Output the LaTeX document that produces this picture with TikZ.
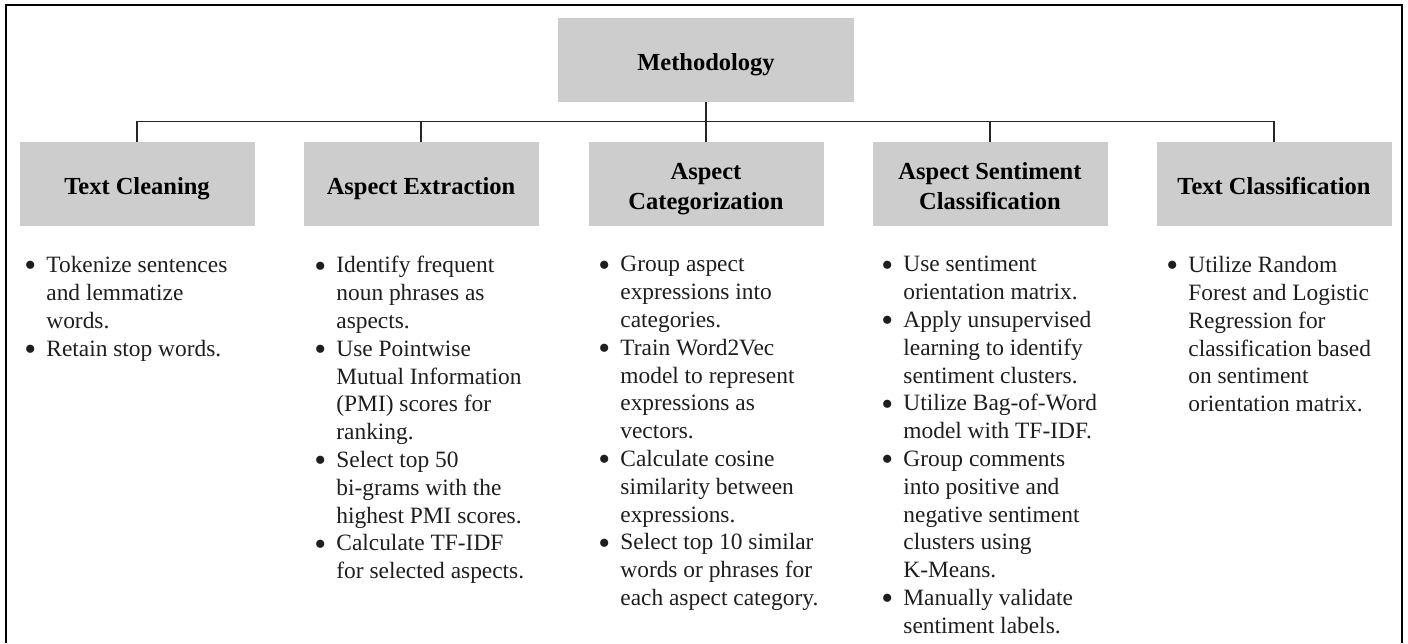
\documentclass[tikz,border=0pt]{standalone}
\usepackage{fontspec}
\usepackage{graphicx}
\setmainfont{Liberation Serif}
\definecolor{boxgray}{RGB}{205,205,205}
\definecolor{txt}{RGB}{30,30,30}
\newcommand\bitem{\makebox[11pt][l]{\raisebox{-0.18em}{\scalebox{1.45}{\textbullet}}}}
\newcommand\cont{\hspace*{11pt}}
\newcommand\hd[1]{\raisebox{-2pt}[\height][\depth]{\begin{tabular}{@{}c@{}}#1\end{tabular}}}
\begin{document}
\begin{tikzpicture}[x=0.5pt,y=-0.5pt,
  head/.style={fill=boxgray, inner sep=0pt, minimum width=117.5pt, minimum height=42pt,
    align=center, font=\bfseries\fontsize{12.25}{15}\selectfont, text=black},
  bul/.style={anchor=north west, inner sep=0pt, align=left,
    font=\fontsize{11.7}{13.9}\selectfont, text=txt},
  conn/.style={draw=black!85, line width=0.75pt}]
\useasboundingbox (0,0) rectangle (1408,643);
\draw[line width=1.1pt] (6,643) -- (6,5) -- (1402,5) -- (1402,643);

\node[head, minimum width=148pt] (meth) at (706,60) {\hd{Methodology}};
\node[head] (tc)  at (137,184) {\hd{Text Cleaning}};
\node[head] (ae)  at (421,184) {\hd{Aspect Extraction}};
\node[head] (ac)  at (706,184) {\hd{Aspect\\Categorization}};
\node[head] (asc) at (990,184) {\hd{Aspect Sentiment\\Classification}};
\node[head] (tcl) at (1274,184) {\hd{Text Classification}};

\draw[conn] (meth.south) -- ++(0,20);
\draw[conn] (tc.north) -- ++(0,-20) -| (tcl.north);
\draw[conn] (ae.north) -- ++(0,-20);
\draw[conn] (ac.north) -- ++(0,-20);
\draw[conn] (asc.north) -- ++(0,-20);

\node[bul] (l1) at (24,256) {\bitem Tokenize sentences\\\cont and lemmatize\\\cont words.\\\bitem Retain stop words.};
\node[bul] (l2) at (314,256) {\bitem Identify frequent\\\cont noun phrases as\\\cont aspects.\\\bitem Use Pointwise\\\cont Mutual Information\\\cont (PMI) scores for\\\cont ranking.\\\bitem Select top 50\\\cont bi-grams with the\\\cont highest PMI scores.\\\bitem Calculate TF-IDF\\\cont for selected aspects.};
\node[bul] (l3) at (598,256) {\bitem Group aspect\\\cont expressions into\\\cont categories.\\\bitem Train Word2Vec\\\cont model to represent\\\cont expressions as\\\cont vectors.\\\bitem Calculate cosine\\\cont similarity between\\\cont expressions.\\\bitem Select top 10 similar\\\cont words or phrases for\\\cont each aspect category.};
\node[bul] (l4) at (881,256) {\bitem Use sentiment\\\cont orientation matrix.\\\bitem Apply unsupervised\\\cont learning to identify\\\cont sentiment clusters.\\\bitem Utilize Bag-of-Word\\\cont model with TF-IDF.\\\bitem Group comments\\\cont into positive and\\\cont negative sentiment\\\cont clusters using\\\cont K-Means.\\\bitem Manually validate\\\cont sentiment labels.};
\node[bul] (l5) at (1166,256) {\bitem Utilize Random\\\cont Forest and Logistic\\\cont Regression for\\\cont classification based\\\cont on sentiment\\\cont orientation matrix.};
\end{tikzpicture}
\end{document}
